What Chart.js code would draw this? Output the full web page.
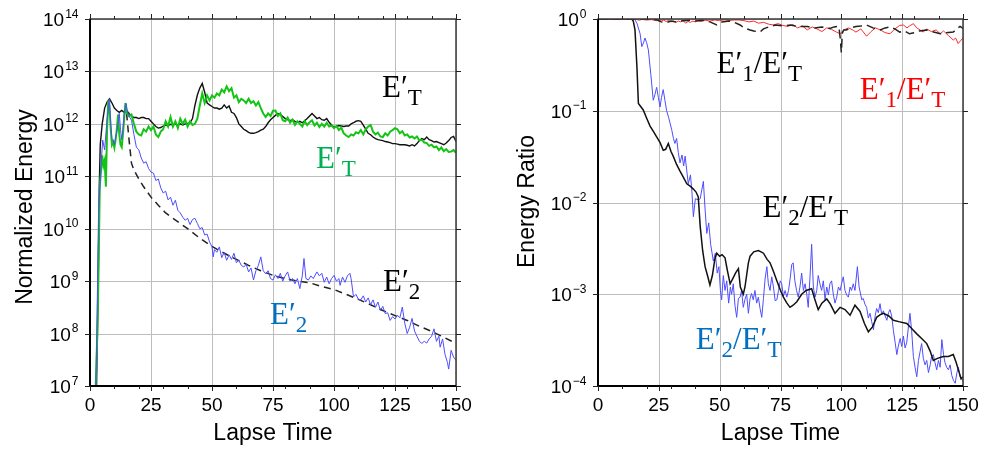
<!DOCTYPE html>
<html><head><meta charset="utf-8">
<script src="https://cdn.jsdelivr.net/npm/chart.js@4.4.1/dist/chart.umd.min.js"></script>
<style>
html,body{margin:0;padding:0;background:#fff;overflow:hidden}
.wrap{position:relative;width:984px;height:450px;background:#fff}
canvas{position:absolute;top:0}
#c1{left:0}#c2{left:492px}
</style></head>
<body><div class="wrap"><canvas id="c1" width="492" height="450"></canvas><canvas id="c2" width="492" height="450"></canvas></div>
<script>
// ---------- tick labels / categories ----------
const xTickValues = [0, 25, 50, 75, 100, 125, 150];
const xMinorTicks = [10, 20, 30, 40, 60, 70, 80, 90, 110, 120, 130, 140];
const leftYExponents = [7, 8, 9, 10, 11, 12, 13, 14];
const rightYExponents = [-4, -3, -2, -1, 0];

// ---------- left panel: normalized energy  [lapse time, energy] ----------
const leftTotalObs = [[2.5,3e6],[3.2,3e8],[3.8,6.3e10],[4.2,4e11],[5,1e12],[6,2e12],[7,2.6e12],[8,3e12],[9,2.5e12],[10,2e12],[11,1.8e12],[12,1.66e12],[13,1.8e12],[14,1.66e12],[15,1.8e12],[16,1.58e12],[17,1.41e12],[18,1.32e12],[19,1.32e12],[20,1.26e12],[21,1.32e12],[22,1.32e12],[23,1.26e12],[24,1.26e12],[25,1.12e12],[26,1e12],[27,8.9e11],[28,8.3e11],[29,8.5e11],[30,9.1e11],[31,9.5e11],[32,9.3e11],[33,9.8e11],[34,9.5e11],[35,1e12],[36,9.5e11],[37,1e12],[38,9.5e11],[39,1e12],[40,1.02e12],[41,1.05e12],[42,1.26e12],[43,2.24e12],[44,3.55e12],[45,4.8e12],[46,5.9e12],[47,4e12],[48,2.5e12],[49,2.3e12],[50,2.14e12],[51,2e12],[52,2e12],[53,1.9e12],[54,2e12],[55,2.3e12],[56,2e12],[57,2.2e12],[58,1.66e12],[59,1.58e12],[60,1.32e12],[61,1e12],[62,8.9e11],[63,7.9e11],[64,7.4e11],[65,6.9e11],[66,6.6e11],[67,6.6e11],[68,6.8e11],[69,7.1e11],[70,7.6e11],[71,7.9e11],[72,8.9e11],[73,1.05e12],[74,1.2e12],[75,1.32e12],[76,1.45e12],[77,1.58e12],[78,1.51e12],[79,1.38e12],[80,1.26e12],[81,1.2e12],[82,1.15e12],[83,1.2e12],[84,1.12e12],[85,1.07e12],[86,1.12e12],[87,1.05e12],[88,1.15e12],[89,1.26e12],[90,1.41e12],[91,1.58e12],[92,1.41e12],[93,1.26e12],[94,1.32e12],[95,1.2e12],[96,1.17e12],[97,1.26e12],[98,1.07e12],[99,9.5e11],[100,8.7e11],[101,8.9e11],[102,9.3e11],[103,9.1e11],[104,8.9e11],[105,9.1e11],[106,9.1e11],[107,1e12],[108,1.05e12],[109,1.12e12],[110,1.15e12],[111,1.12e12],[112,9.5e11],[113,7.9e11],[114,6.6e11],[115,6.2e11],[116,5.6e11],[117,5.25e11],[118,5e11],[119,4.9e11],[120,4.8e11],[121,4.6e11],[122,4.5e11],[123,4.4e11],[124,4.2e11],[125,4.2e11],[126,4.1e11],[127,4e11],[128,4e11],[129,4e11],[130,3.9e11],[131,3.8e11],[132,4e11],[133,3.8e11],[134,4.2e11],[135,4.8e11],[136,5.25e11],[137,5e11],[138,5.6e11],[139,5e11],[140,4.8e11],[141,4.5e11],[142,4.6e11],[143,4.4e11],[144,4.2e11],[145,4e11],[146,4.3e11],[147,4.8e11],[148,5.5e11],[149,5.75e11],[150,4.6e11]];

const leftTotalGreen = [[2,3e6],[3,1e8],[3.5,1.6e9],[4,6.3e10],[5,2.5e11],[5.5,1.6e11],[6,2e11],[6.5,6.3e10],[7,7.9e11],[7.5,2.8e12],[8,2e12],[8.5,7.9e11],[9,4e11],[9.5,4.5e11],[10,3.5e11],[10.5,5e11],[11,7.9e11],[11.5,1.5e12],[12,6.3e11],[12.5,4e11],[13,3.6e11],[13.5,6.3e11],[14,1.26e12],[14.5,2.5e12],[15,1.6e12],[16,1.4e12],[17,1.5e12],[18,1e12],[19,7.1e11],[20,6.3e11],[21,6e11],[22,7.9e11],[23,7.1e11],[24,8.9e11],[25,7.6e11],[26,8.9e11],[27,6.3e11],[28,5.6e11],[29,7.1e11],[30,7.9e11],[31,1.12e12],[32,8.9e11],[33,1.35e12],[34,8.9e11],[35,1.12e12],[36,8.3e11],[37,1.26e12],[38,1e12],[39,1.2e12],[40,8.9e11],[41,1.12e12],[42,9.5e11],[43,1e12],[44,1.26e12],[45,2.24e12],[46,3.8e12],[47,2.5e12],[48,3.5e12],[49,2.8e12],[50,3.5e12],[51,3.16e12],[52,3.8e12],[53,3.5e12],[54,4.5e12],[55,4e12],[56,5.2e12],[57,4.2e12],[58,4.8e12],[59,3.16e12],[60,3.5e12],[61,2.6e12],[62,3e12],[63,2.8e12],[64,2.5e12],[65,3e12],[66,2.5e12],[67,2.7e12],[68,2.24e12],[69,2.6e12],[70,2e12],[71,1.58e12],[72,1.35e12],[73,1.58e12],[74,1.41e12],[75,1.78e12],[76,1.8e12],[77,1.41e12],[78,1.58e12],[79,1.17e12],[80,1.12e12],[81,1.32e12],[82,1.05e12],[83,1.2e12],[84,9.5e11],[85,1.12e12],[86,1e12],[87,8.9e11],[88,1.12e12],[89,9.5e11],[90,1.07e12],[91,1.17e12],[92,9.3e11],[93,1.05e12],[94,8.7e11],[95,1e12],[96,8.9e11],[97,1.05e12],[98,8.9e11],[99,9.3e11],[100,8.3e11],[101,9.1e11],[102,7.6e11],[103,8.5e11],[104,6.6e11],[105,6e11],[106,5.6e11],[107,6.3e11],[108,6e11],[109,6.9e11],[110,6.6e11],[111,7.6e11],[112,6.3e11],[113,7.9e11],[114,8.9e11],[115,9.5e11],[116,7.1e11],[117,6.3e11],[118,6.8e11],[119,5.75e11],[120,5.6e11],[121,6.6e11],[122,6e11],[123,7.1e11],[124,7.6e11],[125,8.3e11],[126,7.9e11],[127,6.6e11],[128,7.2e11],[129,6e11],[130,6.3e11],[131,5.5e11],[132,5.75e11],[133,5.25e11],[134,5.75e11],[135,4.8e11],[136,5e11],[137,4.4e11],[138,4.3e11],[139,3.8e11],[140,4e11],[141,3.55e11],[142,3.7e11],[143,3.16e11],[144,3.55e11],[145,3e11],[146,3.3e11],[147,2.9e11],[148,2.95e11],[149,3.16e11],[150,2.8e11]];

const leftE2Blue = [[2,1e6],[2.8,1e8],[3.5,2e10],[4.5,1.6e11],[5.2,4.9e11],[6,3.2e11],[7,1.26e12],[8,3e12],[8.5,1e12],[9,5e11],[9.5,4.9e11],[10,4e11],[10.5,5.6e11],[11,7.1e11],[11.5,1e12],[12,1.58e12],[12.5,7.9e11],[13,5e11],[13.5,7.9e11],[14,1.58e12],[14.8,2.45e12],[15.5,1.58e12],[16,1.41e12],[17,1.17e12],[18,6.3e11],[19,3.6e11],[20,3.2e11],[21,2.24e11],[22,1.78e11],[23,1.9e11],[24,1.41e11],[25,1.2e11],[26,1.15e11],[27,8.3e10],[28,8.9e10],[29,6e10],[30,4.8e10],[31,5.2e10],[32,3.55e10],[33,4e10],[34,2.8e10],[35,3.5e10],[36,2.24e10],[37,2e10],[38,1.66e10],[39,1.45e10],[40,1.58e10],[41,1.2e10],[42,1.5e10],[43,1.58e10],[44,1.26e10],[45,1e10],[46,1.05e10],[47,7.6e9],[48,7.9e9],[49,5.6e9],[50,4.5e9],[50.5,2.9e9],[51,4e9],[52,3.55e9],[53,4.5e9],[54,2.8e9],[55,3.55e9],[56,2.5e9],[57,3.16e9],[58,2.6e9],[59,3.4e9],[60,2.24e9],[61,2.5e9],[62,2e9],[63,1.86e9],[64,2.1e9],[65,1.5e9],[66,1.78e9],[67,1.05e9],[68,1.58e9],[69,2e9],[70,2.9e9],[71,1.58e9],[72,1.38e9],[73,1.58e9],[74,1.12e9],[75,1.05e9],[76,1.32e9],[77,1.12e9],[78,1.41e9],[79,1e9],[80,1.26e9],[81,1.5e9],[82,1e9],[83,1.12e9],[84,8.9e8],[85,1.12e9],[86,7.2e8],[87,1.26e9],[87.7,2.7e9],[88.5,1.12e9],[89.5,1.05e9],[90.5,1.26e9],[91.5,1.12e9],[93,1.5e9],[94,1.26e9],[95,1.41e9],[96,9.5e8],[97,1.2e9],[98,8.9e8],[99,1.12e9],[100,1.29e9],[101,1e9],[102,1.12e9],[102.5,8.3e8],[103.5,1.2e9],[104.5,9.5e8],[105.5,1.26e9],[106.5,1.41e9],[107,1.12e9],[108,5e8],[109,5.6e8],[110,4.5e8],[111,4.4e8],[112,5.25e8],[113,4e8],[114,4.8e8],[115,3.55e8],[116,4.4e8],[117,3.16e8],[118,4e8],[119,2.75e8],[120,3.3e8],[121,2.4e8],[122,2.5e8],[123,1.78e8],[124,2.1e8],[125,1.9e8],[126,2.24e8],[127,2e8],[128,3.2e8],[129,1.58e8],[130,1e8],[131,1.32e8],[132,1.95e8],[133,1.12e8],[134,8.9e7],[135,7.1e7],[136,6.5e7],[137,7.1e7],[138,6.6e7],[139,7.9e7],[140,8.9e7],[141,1.23e8],[142,7.1e7],[143,8.9e7],[143.5,5.5e7],[144.5,7.9e7],[145.5,4e7],[146.5,2.8e7],[147,2.1e7],[148,4.8e7],[149,3.55e7],[150,3.1e7]];

const leftE2Model = [[15,1.58e12],[16,5e11],[17,1.78e11],[18,1.32e11],[20,8.9e10],[22,6.3e10],[25,4e10],[28,2.8e10],[31,2e10],[34,1.58e10],[37,1.26e10],[40,1e10],[45,6.6e9],[50,4.6e9],[55,3.4e9],[60,2.6e9],[65,2e9],[70,1.58e9],[75,1.29e9],[80,1.12e9],[85,1e9],[90,9.3e8],[95,7.9e8],[100,6.9e8],[105,5.6e8],[110,4.5e8],[115,3.55e8],[120,2.75e8],[125,2.2e8],[130,1.78e8],[135,1.38e8],[140,1.1e8],[145,8.5e7],[150,6.5e7]];

// ---------- right panel: energy ratios  [lapse time, ratio] ----------
const rightE2ModelRatio = [[0,1],[13.8,1],[14.5,0.95],[15.2,0.76],[16,0.3],[16.6,0.12],[18.6,0.102],[20,0.083],[21.4,0.068],[23,0.058],[24.1,0.052],[25.5,0.045],[26.8,0.037],[27.8,0.038],[28.9,0.044],[30,0.036],[30.9,0.032],[32.3,0.026],[33.7,0.022],[35,0.019],[36.5,0.016],[38,0.015],[39.2,0.014],[40.3,0.013],[41.2,0.0115],[42,0.0055],[43,0.003],[44,0.002],[45,0.0016],[46,0.00126],[47,0.0016],[48,0.0024],[48.8,0.0028],[50,0.0026],[51,0.0027],[52.2,0.0025],[53.2,0.0018],[54.3,0.0013],[55.5,0.0015],[56.5,0.0017],[57.7,0.0019],[58.5,0.0012],[59.7,0.001],[60.4,0.0012],[61.8,0.0022],[62.5,0.0026],[64,0.0029],[65.9,0.003],[67,0.0029],[68,0.0028],[69.5,0.0024],[70.7,0.0022],[72,0.0018],[73.5,0.0014],[75,0.0011],[76.2,0.00093],[77.5,0.00081],[78.9,0.00072],[80.2,0.00076],[81.7,0.00083],[83.7,0.001],[85.5,0.0011],[87.8,0.00115],[89,0.0009],[90.5,0.00068],[92,0.0008],[94,0.00089],[95.5,0.00078],[97.4,0.00062],[99.5,0.00072],[101.5,0.00068],[103.6,0.00059],[105.6,0.00076],[107.7,0.00065],[109.5,0.00048],[111.1,0.00039],[112.8,0.00044],[114.5,0.00056],[116,0.0006],[117.3,0.00062],[119.5,0.00058],[121.4,0.00052],[124,0.0005],[126.9,0.00048],[129,0.00042],[131,0.00037],[133,0.00033],[135.1,0.00029],[136.5,0.00024],[137.8,0.00019],[139.5,0.0002],[141.9,0.00021],[144,0.00021],[146,0.00022],[147.2,0.00018],[148.1,0.00015],[149.2,0.00012],[150,0.000126]];

const rightE2ObsRatio = [[0,1],[15,1],[16,0.9],[17.3,0.69],[18,0.5],[18.7,0.55],[19.3,0.62],[20,0.55],[20.7,0.46],[21.7,0.25],[22.7,0.13],[23.4,0.15],[24.1,0.18],[24.8,0.14],[25.5,0.11],[26.1,0.14],[26.8,0.17],[27.5,0.13],[28.2,0.1],[29,0.085],[30.3,0.062],[31,0.05],[31.6,0.044],[32.3,0.05],[33,0.035],[33.7,0.027],[34.5,0.033],[35.2,0.025],[35.8,0.032],[36.5,0.022],[37.1,0.016],[38,0.02],[38.6,0.013],[39.2,0.007],[40,0.011],[41.2,0.0107],[42,0.011],[43.3,0.017],[44,0.0085],[44.7,0.0046],[45.5,0.006],[46.3,0.0035],[47.4,0.0023],[48.2,0.0028],[49,0.0017],[49.7,0.002],[50.3,0.0011],[50.8,0.00087],[51.5,0.0016],[52.2,0.0011],[52.9,0.0014],[53.7,0.0008],[54.4,0.0012],[54.9,0.001],[55.6,0.0013],[56.3,0.00075],[57,0.00056],[57.7,0.0009],[58.4,0.00093],[59,0.0011],[59.7,0.00072],[60.4,0.00088],[61.1,0.001],[61.8,0.00062],[62.5,0.0009],[63.1,0.00102],[63.8,0.00087],[64.5,0.0011],[65.2,0.0008],[65.9,0.00093],[66.6,0.0007],[67.3,0.00056],[68,0.0009],[68.7,0.0015],[69.4,0.002],[70,0.0013],[70.7,0.0011],[71.4,0.00155],[72.1,0.0012],[72.8,0.00085],[73.5,0.00087],[74.2,0.0011],[74.9,0.0014],[75.5,0.0013],[76.2,0.00095],[76.9,0.0011],[77.6,0.00093],[78.3,0.0011],[79,0.0015],[79.6,0.0021],[80.2,0.0022],[80.9,0.0014],[81.6,0.0011],[82.3,0.00093],[83,0.0012],[83.7,0.0017],[84.4,0.0011],[85.1,0.0013],[85.8,0.001],[86.4,0.00072],[87.1,0.0015],[87.8,0.0035],[88.5,0.0012],[89.2,0.00093],[89.9,0.0011],[90.5,0.0016],[91.2,0.0013],[91.9,0.0011],[92.6,0.0014],[93.3,0.00087],[94,0.0012],[94.7,0.00098],[95.3,0.0013],[96,0.0014],[96.7,0.001],[97.4,0.0008],[98.1,0.00093],[98.8,0.0012],[99.5,0.0011],[100.1,0.0013],[100.8,0.00155],[101.5,0.0011],[102.2,0.00098],[102.9,0.00093],[103.6,0.0012],[104.2,0.0011],[104.9,0.0013],[105.6,0.0011],[106.6,0.002],[107.3,0.0012],[108.4,0.00087],[109,0.0009],[109.7,0.00078],[110.4,0.00072],[111.1,0.00055],[111.8,0.00062],[112.5,0.0005],[113.2,0.00041],[113.9,0.00058],[114.5,0.0007],[115.2,0.00063],[115.9,0.00079],[116.6,0.0006],[117.3,0.00066],[118,0.00058],[118.7,0.00052],[119.4,0.00063],[120,0.00068],[120.7,0.00058],[121.4,0.0004],[122.1,0.0003],[122.8,0.00022],[123.5,0.00028],[124.2,0.00033],[124.8,0.00027],[125.5,0.00035],[126.2,0.00026],[126.9,0.0003],[127.6,0.00045],[128.2,0.00062],[128.9,0.0004],[129.6,0.00021],[130.3,0.00016],[131,0.000126],[131.7,0.00019],[132.4,0.00024],[133,0.00029],[133.7,0.0002],[134.4,0.00017],[135.1,0.00019],[135.8,0.00014],[136.5,0.00017],[137.1,0.00021],[137.8,0.00022],[138.5,0.00018],[139.2,0.00015],[139.9,0.00019],[140.6,0.00016],[141.3,0.00032],[142,0.00022],[142.6,0.00018],[143.3,0.00016],[144,0.00015],[144.7,0.00017],[145.4,0.00013],[146.1,0.000115],[146.8,0.000107],[147.5,0.00014],[148.1,0.00016],[148.8,0.000126],[149.5,0.00012],[150,0.000112]];

const rightE1ObsRatio = [[0,1],[15,1],[16,0.985],[17,0.97],[18,0.99],[20,0.975],[22,0.985],[24,0.96],[25,0.975],[26,0.95],[27,0.97],[28,0.94],[29,0.965],[30,0.93],[31,0.955],[32,0.92],[33,0.95],[34,0.93],[35,0.96],[36,0.9],[37,0.94],[38,0.92],[39,0.95],[40,0.93],[41,0.96],[42,0.94],[44,0.97],[46,0.95],[48,0.975],[50,0.96],[52,0.98],[54,0.965],[56,0.975],[58,0.975],[60,0.96],[62,0.93],[64,0.95],[66,0.9],[68,0.92],[70,0.88],[72,0.86],[74,0.89],[76,0.85],[78,0.83],[80,0.87],[82,0.8],[84,0.84],[86,0.76],[88,0.82],[90,0.78],[92,0.73],[94,0.8],[96,0.77],[98,0.72],[99.5,0.69],[101,0.76],[103,0.8],[105,0.75],[106,0.72],[108,0.78],[110.4,0.65],[112,0.72],[114,0.8],[116,0.76],[118,0.71],[120,0.69],[122,0.78],[124,0.85],[125.5,0.86],[127,0.8],[128,0.84],[129.6,0.89],[131,0.8],[133.7,0.72],[135,0.78],[137,0.73],[139,0.76],[140.6,0.69],[142,0.74],[144,0.66],[146,0.59],[147,0.62],[148,0.54],[149,0.58],[150,0.62]];

const rightE1ModelRatio = [[0,1],[20,1],[24,0.98],[26,0.93],[28,0.91],[30,0.95],[32,0.93],[35,0.96],[38,0.97],[40,0.95],[43,0.97],[46,0.93],[48.8,0.86],[51,0.93],[54,0.95],[56,0.92],[58.4,0.86],[60,0.8],[62.5,0.76],[64,0.74],[66.6,0.72],[68,0.78],[70.7,0.83],[73,0.86],[76,0.84],[79,0.86],[82,0.83],[86,0.83],[89,0.8],[92,0.82],[95.3,0.79],[97,0.82],[99,0.83],[99.6,0.6],[100,0.43],[100.4,0.7],[101,0.76],[102,0.76],[104,0.8],[106,0.83],[108,0.84],[110.4,0.86],[113,0.8],[116,0.76],[118,0.8],[120,0.82],[122,0.78],[124,0.72],[126,0.74],[128,0.69],[130,0.71],[132,0.74],[135,0.76],[138,0.72],[140.6,0.69],[143,0.71],[146,0.72],[148,0.8],[148.8,0.83],[150,0.79]];

// ---------- text annotations (anchored in data coordinates) ----------
const leftAnnotations = [
  {x:119.7, y:3.25e12, color:'#000000', parts:[['E\u2032',0],['T',1]]},
  {x:92.6,  y:1.44e11, color:'#00b050', parts:[['E\u2032',0],['T',1]]},
  {x:120.1, y:6.5e8,   color:'#000000', parts:[['E\u2032',0],['2',1]]},
  {x:73.8,  y:1.52e8,  color:'#0070c0', parts:[['E\u2032',0],['2',1]]}
];
const rightAnnotations = [
  {x:48.7,  y:0.2576,  color:'#000000', parts:[['E\u2032',0],['1',1],['/E\u2032',0],['T',1]]},
  {x:107.6, y:0.135,   color:'#ff0000', parts:[['E\u2032',0],['1',1],['/E\u2032',0],['T',1]]},
  {x:67.6,  y:0.00701, color:'#000000', parts:[['E\u2032',0],['2',1],['/E\u2032',0],['T',1]]},
  {x:40.2,  y:2.51e-4, color:'#0070c0', parts:[['E\u2032',0],['2',1],['/E\u2032',0],['T',1]]}
];

const toXY = arr => arr.map(p => ({x: p[0], y: p[1]}));
const SANS = '"Liberation Sans", Arial, sans-serif';
const SERIF = '"Liberation Serif", "Times New Roman", serif';

function drawRich(ctx, x, y, parts, color) {
  ctx.fillStyle = color; ctx.textAlign = 'left'; ctx.textBaseline = 'alphabetic';
  let cx = x;
  parts.forEach(([s, sub]) => {
    ctx.font = sub ? '23px ' + SERIF : '31px ' + SERIF;
    ctx.fillText(s, cx, y + (sub ? 8 : 0));
    cx += ctx.measureText(s).width;
  });
}

function panelPlugin(cfg) {
  return {
    id: 'panel',
    beforeDatasetsDraw(chart) {
      const {ctx, chartArea: a, scales: {x, y}} = chart;
      ctx.save();
      ctx.strokeStyle = '#bdbdbd'; ctx.lineWidth = 1;
      cfg.xTicks.forEach(v => {
        const px = Math.round(x.getPixelForValue(v)) + 0.5;
        ctx.beginPath(); ctx.moveTo(px, a.top); ctx.lineTo(px, a.bottom); ctx.stroke();
      });
      cfg.yExp.forEach(e => {
        const py = Math.round(y.getPixelForValue(Math.pow(10, e))) + 0.5;
        ctx.beginPath(); ctx.moveTo(a.left, py); ctx.lineTo(a.right, py); ctx.stroke();
      });
      ctx.restore();
    },
    afterDraw(chart) {
      const {ctx, chartArea: a, scales: {x, y}} = chart;
      ctx.save();
      // frame
      ctx.strokeStyle = '#3a3a3a'; ctx.lineWidth = 1.5;
      ctx.strokeRect(a.left, a.top, a.right - a.left, a.bottom - a.top);
      ctx.strokeStyle = '#000'; ctx.lineWidth = 2;
      ctx.beginPath(); ctx.moveTo(a.left, a.top); ctx.lineTo(a.left, a.bottom); ctx.lineTo(a.right, a.bottom); ctx.stroke();
      // ticks
      ctx.lineWidth = 1; ctx.strokeStyle = '#222';
      const tick = (x1, y1, x2, y2) => { ctx.beginPath(); ctx.moveTo(x1, y1); ctx.lineTo(x2, y2); ctx.stroke(); };
      cfg.xTicks.forEach(v => { const px = Math.round(x.getPixelForValue(v)) + 0.5; tick(px, a.bottom, px, a.bottom + 5); tick(px, a.top, px, a.top - 5); });
      cfg.xMinor.forEach(v => { const px = Math.round(x.getPixelForValue(v)) + 0.5; tick(px, a.bottom, px, a.bottom + 3); tick(px, a.top, px, a.top - 3); });
      cfg.yExp.forEach(e => { const py = Math.round(y.getPixelForValue(Math.pow(10, e))) + 0.5; tick(a.left - 5, py, a.left, py); tick(a.right, py, a.right + 5, py); });
      // x tick labels
      ctx.fillStyle = '#000'; ctx.font = '19px ' + SANS; ctx.textAlign = 'center'; ctx.textBaseline = 'alphabetic';
      cfg.xTicks.forEach(v => ctx.fillText(String(v), x.getPixelForValue(v), a.bottom + 25));
      // y tick labels 10^e
      cfg.yExp.forEach(e => {
        const py = y.getPixelForValue(Math.pow(10, e));
        const sup = (e < 0 ? '\u2212' + Math.abs(e) : String(e));
        ctx.font = '12px ' + SANS; const ws = ctx.measureText(sup).width;
        ctx.font = '19px ' + SANS; const wb = ctx.measureText('10').width;
        const right = a.left - 11.5;
        ctx.textAlign = 'left';
        ctx.font = '19px ' + SANS; ctx.fillText('10', right - ws - wb - 1, py + 7);
        ctx.font = '12px ' + SANS; ctx.fillText(sup, right - ws, py - 1.5);
      });
      // axis titles
      ctx.font = '23px ' + SANS; ctx.textAlign = 'center'; ctx.fillStyle = '#000';
      ctx.fillText('Lapse Time', (a.left + a.right) / 2, 440);
      ctx.save();
      ctx.translate(cfg.yTitleX, cfg.yTitleY); ctx.rotate(-Math.PI / 2);
      ctx.fillText(cfg.yTitle, 0, 0);
      ctx.restore();
      // annotations
      cfg.annotations.forEach(an => drawRich(ctx, x.getPixelForValue(an.x), y.getPixelForValue(an.y), an.parts, an.color));
      ctx.restore();
    }
  };
}

function lineDs(data, color, width, dash) {
  return {data: toXY(data), borderColor: color, borderWidth: width, borderDash: dash || [], pointRadius: 0, tension: 0, fill: false, spanGaps: true};
}

function makeChart(id, datasets, yMin, yMax, padding, cfg) {
  return new Chart(document.getElementById(id), {
    type: 'line',
    data: {datasets},
    options: {
      responsive: false, animation: false, devicePixelRatio: 1,
      layout: {padding},
      plugins: {legend: {display: false}, tooltip: {enabled: false}},
      scales: {
        x: {type: 'linear', min: 0, max: 150, display: false},
        y: {type: 'logarithmic', min: yMin, max: yMax, display: false}
      }
    },
    plugins: [panelPlugin(cfg)]
  });
}

makeChart('c1', [
  lineDs(leftE2Blue, '#4d4dff', 1),
  lineDs(leftTotalGreen, '#14c414', 2),
  lineDs(leftTotalObs, '#111111', 1.4),
  lineDs(leftE2Model, '#222222', 1.5, [7, 5])
], 1e7, 1e14, {left: 90, top: 19, right: 36, bottom: 64},
 {xTicks: xTickValues, xMinor: xMinorTicks, yExp: leftYExponents, yTitle: 'Normalized Energy', yTitleX: 31.5, yTitleY: 207, annotations: leftAnnotations});

makeChart('c2', [
  lineDs(rightE1ModelRatio, '#222222', 1.5, [9, 5]),
  lineDs(rightE1ObsRatio, '#ff2a2a', 1),
  lineDs(rightE2ModelRatio, '#111111', 1.5),
  lineDs(rightE2ObsRatio, '#4d4dff', 1)
], 1e-4, 1, {left: 106, top: 19, right: 21, bottom: 64},
 {xTicks: xTickValues, xMinor: xMinorTicks, yExp: rightYExponents, yTitle: 'Energy Ratio', yTitleX: 42, yTitleY: 201.5, annotations: rightAnnotations});
</script>
</body></html>
